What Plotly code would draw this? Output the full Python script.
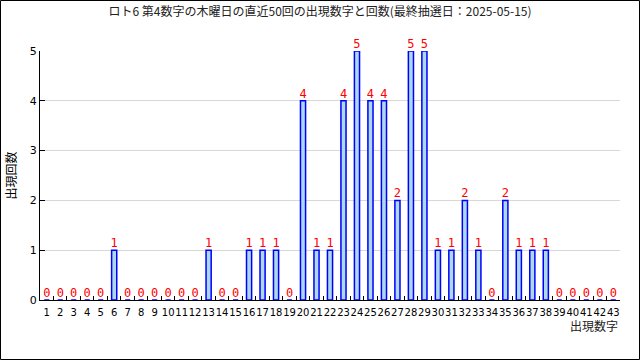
import plotly.graph_objects as go

numbers = [str(i) for i in range(1, 44)]
counts = [0, 0, 0, 0, 0, 1, 0, 0, 0, 0, 0, 0, 1, 0, 0, 1, 1, 1, 0, 4,
          1, 1, 4, 5, 4, 4, 2, 5, 5, 1, 1, 2, 1, 0, 2, 1, 1, 1, 0, 0,
          0, 0, 0]
title = "ロト6 第4数字の木曜日の直近50回の出現数字と回数(最終抽選日：2025-05-15)"

L, R, T, B = 40, 20, 51, 60
W, H = 640, 360
pw, ph = W - L - R, H - T - B

fig = go.Figure(go.Bar(
    x=numbers, y=counts, width=0.38,
    marker=dict(color="#add8e6", line=dict(color="#0000ff", width=1.5)),
    text=[str(c) for c in counts], textposition="outside",
    constraintext="none",
    textfont=dict(color="#ff0000", size=12, family="DejaVu Sans Mono"),
    cliponaxis=False,
))

fig.update_layout(
    width=W, height=H, margin=dict(l=L, r=R, t=T, b=B),
    paper_bgcolor="white", plot_bgcolor="white",
    showlegend=False,
    title=dict(text=title, x=0.5, xanchor="center", y=1 - 12 / H, yanchor="middle",
               font=dict(family="Noto Sans CJK JP", size=12, color="#222")),
    font=dict(family="DejaVu Sans", size=11, color="black"),
)
fig.update_xaxes(type="category", tickangle=0, tickson="boundaries",
                 ticks="inside", ticklen=4, tickcolor="black",
                 showline=True, linecolor="black", linewidth=1,
                 showgrid=False, range=[-0.5, 42.5], ticklabelstandoff=3,
                 tickfont=dict(family="DejaVu Sans", size=10))
fig.update_yaxes(range=[0, 5], dtick=1, ticks="inside", ticklen=5, tickcolor="black",
                 showline=True, linecolor="black", linewidth=1,
                 showgrid=True, gridcolor="#d8d8d8", gridwidth=1, zeroline=False,
                 tickfont=dict(family="DejaVu Sans", size=11),
                 title=dict(text="出現回数", font=dict(family="Noto Sans CJK JP", size=12), standoff=10))

fig.add_annotation(text="出現数字", xref="paper", yref="paper", x=1, y=-25 / ph,
                   xanchor="right", yanchor="middle", showarrow=False,
                   font=dict(family="Noto Sans CJK JP", size=12, color="#222"))

fig.add_shape(type="rect", xref="paper", yref="paper",
              x0=(-L + 0.5) / pw, x1=1 + (R - 0.5) / pw,
              y0=(-B + 0.5) / ph, y1=1 + (T - 0.5) / ph,
              line=dict(color="black", width=1), layer="above")

fig.write_html("out.html")
